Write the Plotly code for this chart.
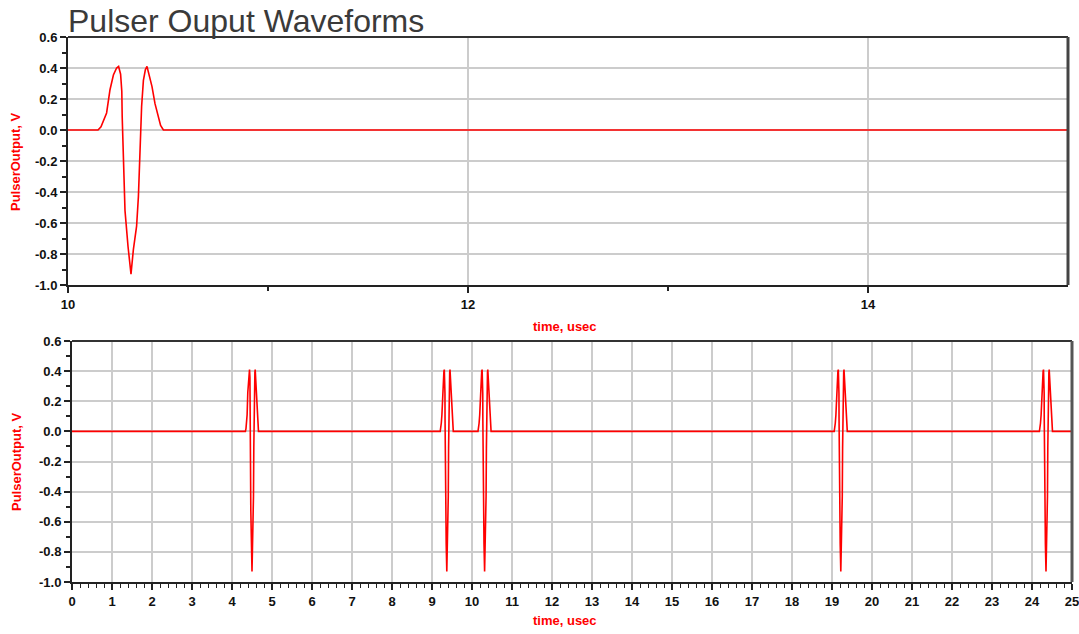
import plotly.graph_objects as go

# ---- data ----
# one pulse: time offsets (usec) relative to the negative peak, and voltage
pulse_offset = [-0.165, -0.150, -0.138, -0.122, -0.105, -0.088, -0.072, -0.062, -0.052,
                -0.046, -0.044, -0.038, -0.030, -0.015, 0.0, 0.012, 0.028, 0.037,
                0.045, 0.053, 0.062, 0.072, 0.080, 0.090, 0.105, 0.120, 0.135, 0.148, 0.162]
pulse_value = [0.0, 0.02, 0.054, 0.11, 0.26, 0.355, 0.40, 0.41, 0.36,
               0.25, 0.086, -0.19, -0.52, -0.75, -0.93, -0.77, -0.62, -0.43,
               -0.11, 0.15, 0.32, 0.39, 0.41, 0.36, 0.28, 0.17, 0.09, 0.03, 0.0]
# times of the negative peaks of each pulse (usec)
pulse_centers = [4.50, 9.37, 10.315, 19.22, 24.35]
t_start, t_end = 0.0, 25.0

y_ticks = [0.6, 0.4, 0.2, 0.0, -0.2, -0.4, -0.6, -0.8, -1.0]
y_tick_labels = ["0.6", "0.4", "0.2", "0.0", "-0.2", "-0.4", "-0.6", "-0.8", "-1.0"]
top_x_ticks = [10, 12, 14]
bottom_x_ticks = list(range(0, 26))

title_text = "Pulser Ouput Waveforms"
y_title = "PulserOutput, V"
x_title = "time, usec"

# ---- build the time series ----
t = [t_start]
v = [0.0]
for c in pulse_centers:
    for o, val in zip(pulse_offset, pulse_value):
        t.append(c + o)
        v.append(val)
t.append(t_end)
v.append(0.0)

RED = "#ff0000"
GRID = "#cccccc"
FONT = "Liberation Sans, Arial, sans-serif"
TICKFONT = dict(family=FONT, size=13, color="#111111", weight="bold")

fig = go.Figure()
fig.add_trace(go.Scatter(x=t, y=v, mode="lines", line=dict(color=RED, width=1.6),
                         xaxis="x", yaxis="y", showlegend=False, hoverinfo="skip"))
fig.add_trace(go.Scatter(x=t, y=v, mode="lines", line=dict(color=RED, width=1.6),
                         xaxis="x2", yaxis="y2", showlegend=False, hoverinfo="skip"))

W, H = 1079, 634
def px(x):
    return x / W
def py(y):
    return 1 - y / H

yaxis_common = dict(
    range=[-1.0, 0.6], tickvals=y_ticks, ticktext=y_tick_labels,
    showline=True, linecolor="#222222", linewidth=2,
    ticks="outside", ticklen=6, tickwidth=1.5, tickcolor="#222222",
    showgrid=True, gridcolor=GRID, gridwidth=1.5, zeroline=False,
    tickfont=TICKFONT, ticklabeloverflow="allow",
    minor=dict(dtick=0.1, tick0=0, ticks="outside", ticklen=4, tickcolor="#222222",
               tickwidth=1.5, showgrid=False),
    automargin=False, fixedrange=True,
)

fig.update_layout(
    width=W, height=H,
    margin=dict(l=0, r=0, t=0, b=0, autoexpand=False),
    paper_bgcolor="white", plot_bgcolor="white",
    xaxis=dict(
        domain=[px(68), px(1068)], range=[10, 15], anchor="y",
        tickvals=top_x_ticks, ticktext=[str(x) for x in top_x_ticks],
        showline=True, linecolor="#222222", linewidth=2,
        ticks="outside", ticklen=6, tickwidth=1.5, tickcolor="#222222",
        showgrid=True, gridcolor=GRID, gridwidth=1.5, zeroline=False,
        tickfont=TICKFONT, ticklabeloverflow="allow",
        minor=dict(tickvals=[11, 13], ticks="outside", ticklen=4, tickcolor="#222222",
                   tickwidth=1.5, showgrid=False),
        automargin=False, fixedrange=True,
    ),
    yaxis=dict(domain=[py(285), py(37)], anchor="x", **yaxis_common),
    xaxis2=dict(
        domain=[px(72), px(1072)], range=[0, 25], anchor="y2",
        tickvals=bottom_x_ticks, ticktext=[str(x) for x in bottom_x_ticks],
        showline=True, linecolor="#222222", linewidth=2,
        ticks="outside", ticklen=6, tickwidth=1.5, tickcolor="#222222",
        showgrid=True, gridcolor=GRID, gridwidth=1.5, zeroline=False,
        tickfont=TICKFONT, ticklabeloverflow="allow",
        minor=dict(dtick=0.2, tick0=0, ticks="outside", ticklen=4, tickcolor="#222222",
                   tickwidth=1.2, showgrid=False),
        automargin=False, fixedrange=True,
    ),
    yaxis2=dict(domain=[py(582), py(341)], anchor="x2", **yaxis_common),
)

# frame lines (top and right edges)
for xr, yr, col in [("x domain", "y domain", "#444444"), ("x2 domain", "y2 domain", "#555555")]:
    fig.add_shape(type="line", xref=xr, yref=yr, x0=0, x1=1, y0=1, y1=1,
                  line=dict(color="#333333", width=2))
    fig.add_shape(type="line", xref=xr, yref=yr, x0=1, x1=1, y0=0, y1=1,
                  line=dict(color=col, width=3))

# title
fig.add_annotation(text=title_text, xref="paper", yref="paper", x=px(66), y=py(21),
                   xanchor="left", yanchor="middle", showarrow=False,
                   font=dict(family=FONT, size=32, color="#3a3a3a"))

# axis titles
for yc in [162, 462]:
    fig.add_annotation(text="<b>" + y_title + "</b>", xref="paper", yref="paper",
                       x=px(16), y=py(yc), textangle=-90, showarrow=False,
                       xanchor="center", yanchor="middle",
                       font=dict(family=FONT, size=13, color=RED))
for yc in [326, 620]:
    fig.add_annotation(text="<b>" + x_title + "</b>", xref="paper", yref="paper",
                       x=px(565), y=py(yc), showarrow=False,
                       xanchor="center", yanchor="middle",
                       font=dict(family=FONT, size=13, color=RED))

fig.write_html("out.html", config={"displayModeBar": False},
               post_script="document.body.style.margin='0';document.body.style.overflow='hidden';")
